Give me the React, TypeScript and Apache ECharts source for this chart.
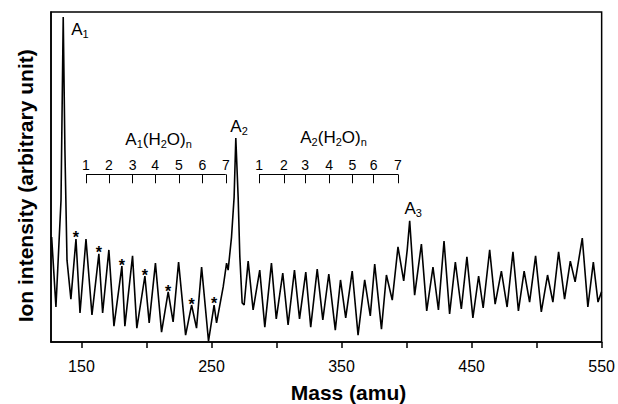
import React, { useEffect, useRef } from "react";
import * as echarts from "echarts";

const FONT = "'Liberation Sans', Arial, Helvetica, sans-serif";

// Spectrum: mass (amu) and ion intensity (arbitrary, 0-100)
const massAmu = [
  127.1, 130.4, 134.3, 136.0, 137.3, 138.9, 141.9, 145.8, 148.9, 153.5,
  158.1, 163.4, 166.3, 171.1, 175.0, 181.1, 183.4, 189.3, 192.6, 198.8,
  202.1, 206.9, 211.6, 216.7, 220.5, 224.7, 230.1, 234.7, 238.5, 242.4,
  247.7, 252.0, 253.9, 259.0, 261.6, 262.8, 265.4, 267.4, 268.7, 270.5,
  271.8, 273.6, 275.1, 278.2, 282.0, 287.1, 291.0, 296.1, 299.8, 304.8,
  308.9, 313.8, 317.7, 322.5, 326.3, 331.3, 335.6, 340.2, 345.2, 349.2,
  353.2, 358.2, 362.7, 367.8, 372.1, 375.5, 380.7, 384.5, 389.0, 393.4,
  397.8, 400.5, 402.4, 406.2, 411.4, 415.5, 420.3, 424.5, 428.8, 433.1,
  437.5, 442.1, 446.4, 451.0, 455.4, 458.9, 463.9, 468.1, 472.9, 477.3,
  481.8, 486.0, 490.4, 494.6, 499.2, 503.6, 508.4, 512.5, 516.9, 521.5,
  525.9, 529.6, 535.1, 539.4, 543.6, 547.2, 549.9,
];
const intensity = [
  31.8, 10.6, 43.0, 98.5, 58.2, 24.8, 13.0, 31.2, 8.8, 31.2,
  8.2, 26.7, 8.8, 27.9, 4.8, 23.0, 4.8, 26.1, 4.2, 20.0,
  5.8, 23.9, 3.0, 15.2, 6.1, 24.2, 2.1, 11.2, 4.2, 22.7,
  0.3, 11.2, 5.8, 16.7, 23.9, 21.8, 31.8, 43.9, 61.8, 43.9,
  25.8, 11.8, 11.2, 24.5, 9.7, 21.8, 4.5, 23.9, 7.0, 20.9,
  5.2, 21.8, 7.0, 21.2, 4.5, 22.1, 6.7, 20.6, 3.6, 18.8,
  7.3, 21.5, 2.1, 18.8, 7.9, 23.6, 3.9, 20.3, 12.7, 28.8,
  18.5, 27.9, 36.7, 14.2, 29.7, 9.4, 22.7, 9.7, 30.6, 8.5,
  24.2, 10.0, 25.8, 7.3, 20.0, 10.3, 27.9, 11.5, 21.5, 10.6,
  27.3, 9.4, 21.5, 12.1, 26.1, 9.1, 20.3, 12.1, 27.3, 13.0,
  24.5, 18.2, 31.5, 10.6, 24.2, 12.1, 15.2,
];

// x-axis ticks and labels
const tickValues = [150, 200, 250, 300, 350, 400, 450, 500, 550];
const labelValues = [150, 250, 350, 450, 550];

// water-cluster brackets
const waterLabels = ["1", "2", "3", "4", "5", "6", "7"];
const a1WaterMass = [153.5, 171.1, 189.3, 206.7, 224.9, 243.1, 261.0];
const a2WaterMass = [286.6, 305.6, 322.0, 340.4, 358.4, 374.7, 393.4];

// peaks marked with *
const starMass = [145.8, 163.4, 181.1, 198.8, 216.7, 234.7, 252.0];
const starIntensity = [32.9, 28.4, 24.3, 21.3, 16.6, 12.7, 12.9];

// peak / series labels
const peakLabelText = [
  "{a|A}{s|1}",
  "{a|A}{s|2}",
  "{a|A}{s|3}",
  "{a|A}{s|1}{a|(H}{s|2}{a|O)}{s|n}",
  "{a|A}{s|2}{a|(H}{s|2}{a|O)}{s|n}",
];
const peakLabelMass = [141.7, 264.1, 398.0, 183.4, 317.9];
const peakLabelIntensity = [94.8, 65.2, 40.5, 61.5, 62.1];

const BRACKET_Y = 50.8;
const BRACKET_TICK_Y = 48.1;
const NUMBER_Y = 53.5;

const plainLabel = {
  color: "#000",
  textBorderWidth: 0,
  textBorderColor: "transparent",
  textShadowBlur: 0,
  opacity: 1,
};

export default function App() {
  const ref = useRef<HTMLDivElement>(null);

  useEffect(() => {
    if (!ref.current) return;
    const chart = echarts.init(ref.current, null, { renderer: "svg" });

    const segments: any[] = [];
    [a1WaterMass, a2WaterMass].forEach((arr) => {
      segments.push({ coords: [[arr[0], BRACKET_Y], [arr[arr.length - 1], BRACKET_Y]] });
      arr.forEach((m) => segments.push({ coords: [[m, BRACKET_Y], [m, BRACKET_TICK_Y]] }));
    });

    const numberData: any[] = [];
    [a1WaterMass, a2WaterMass].forEach((arr) => {
      arr.forEach((m, i) => numberData.push([m, NUMBER_Y, waterLabels[i]]));
    });

    const rich = {
      a: { fontSize: 17, lineHeight: 20, fontFamily: FONT, color: "#000", verticalAlign: "middle" },
      s: { fontSize: 11, lineHeight: 11, fontFamily: FONT, color: "#000", verticalAlign: "bottom" },
    };

    chart.setOption({
      animation: false,
      backgroundColor: "#fff",
      grid: {
        left: 51,
        right: 15.5,
        top: 12,
        bottom: 62,
        show: true,
        borderColor: "#000",
        borderWidth: 1.5,
      },
      xAxis: {
        type: "value",
        min: 126.6,
        max: 550,
        axisLine: { show: true, lineStyle: { color: "#000", width: 1.5 } },
        axisTick: {
          show: true,
          customValues: tickValues,
          length: 6,
          lineStyle: { color: "#000", width: 1.5 },
        },
        axisLabel: {
          show: true,
          customValues: labelValues,
          margin: 16,
          fontSize: 16,
          color: "#000",
          fontFamily: FONT,
        },
        splitLine: { show: false },
      },
      yAxis: {
        type: "value",
        min: 0,
        max: 100,
        axisLine: { show: true, lineStyle: { color: "#000", width: 1.5 } },
        axisTick: { show: false },
        axisLabel: { show: false },
        splitLine: { show: false },
      },
      graphic: [
        {
          type: "text",
          x: 348.5,
          y: 392.5,
          style: {
            text: "Mass (amu)",
            fontSize: 21,
            fontWeight: "bold",
            fontFamily: FONT,
            fill: "#000",
            align: "center",
            verticalAlign: "middle",
          },
        },
        {
          type: "text",
          x: 25,
          y: 185.8,
          rotation: Math.PI / 2,
          style: {
            text: "Ion intensity (arbitrary unit)",
            fontSize: 21,
            fontWeight: "bold",
            fontFamily: FONT,
            fill: "#000",
            align: "center",
            verticalAlign: "middle",
          },
        },
      ],
      series: [
        {
          type: "line",
          data: massAmu.map((m, i) => [m, intensity[i]]),
          showSymbol: false,
          symbol: "none",
          lineStyle: { color: "#000", width: 1.6 },
          z: 3,
          silent: true,
        },
        {
          type: "lines",
          coordinateSystem: "cartesian2d",
          polyline: false,
          data: segments,
          lineStyle: { color: "#000", width: 1, opacity: 1 },
          silent: true,
          z: 4,
        },
        {
          type: "scatter",
          data: numberData,
          symbolSize: 1,
          itemStyle: { color: "#000", opacity: 0 },
          label: {
            show: true,
            position: "inside",
            formatter: (p: any) => p.value[2],
            fontSize: 14,
            fontFamily: FONT,
            ...plainLabel,
          },
          silent: true,
          z: 5,
        },
        {
          type: "scatter",
          data: starMass.map((m, i) => [m, starIntensity[i]]),
          symbolSize: 1,
          itemStyle: { color: "#000", opacity: 0 },
          label: {
            show: true,
            position: "inside",
            formatter: "*",
            fontSize: 16,
            fontWeight: "bold",
            fontFamily: FONT,
            offset: [0, 4],
            ...plainLabel,
          },
          silent: true,
          z: 5,
        },
        {
          type: "scatter",
          data: peakLabelMass.map((m, i) => ({
            value: [m, peakLabelIntensity[i]],
            label: { formatter: peakLabelText[i] },
          })),
          symbolSize: 1,
          itemStyle: { color: "#000", opacity: 0 },
          label: {
            show: true,
            position: "right",
            distance: 0,
            rich,
            ...plainLabel,
          },
          silent: true,
          z: 5,
        },
      ],
    });

    return () => chart.dispose();
  }, []);

  return (
    <div
      ref={ref}
      style={{ position: "fixed", left: 0, top: 0, width: 618, height: 404, background: "#fff" }}
    />
  );
}
